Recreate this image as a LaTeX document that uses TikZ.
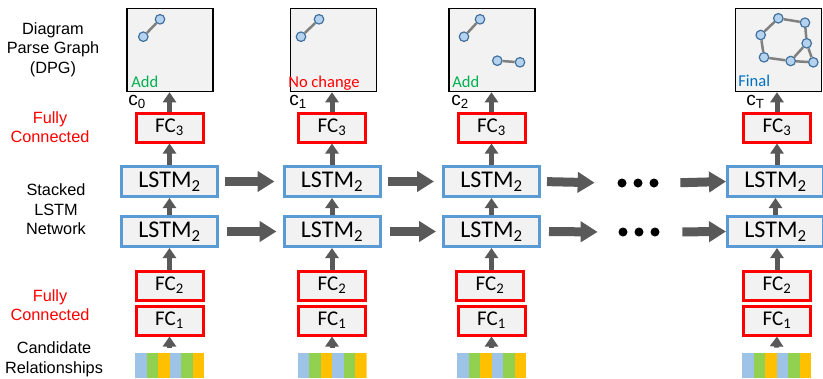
\documentclass[tikz,border=0pt]{standalone}
\usepackage{fontspec}
\setmainfont{Liberation Sans}
\newfontfamily\boxfont{Carlito}
\usetikzlibrary{arrows.meta}

\definecolor{boxfill}{RGB}{242,242,242}
\definecolor{fcred}{RGB}{255,0,0}
\definecolor{lstmblue}{RGB}{91,155,213}
\definecolor{arrowgray}{RGB}{89,89,89}
\definecolor{nodeblue}{RGB}{181,210,238}
\definecolor{nodestroke}{RGB}{65,113,156}
\definecolor{edgegray}{RGB}{128,128,128}
\definecolor{addgreen}{RGB}{0,176,80}
\definecolor{finalblue}{RGB}{0,112,192}
\definecolor{barblue}{RGB}{157,195,230}
\definecolor{bargreen}{RGB}{146,208,80}
\definecolor{barorange}{RGB}{255,192,0}

\tikzset{every picture/.style={line width=0.75pt}}
\tikzset{
  dpgbox/.style={draw=black, fill=boxfill, line width=1.5pt, minimum width=86pt, minimum height=83pt, inner sep=0pt},
  fcbox/.style={draw=fcred, fill=boxfill, line width=3pt, minimum width=67pt, minimum height=29pt, inner sep=0pt, font=\boxfont\fontsize{21}{21}\selectfont},
  lstmbox/.style={draw=lstmblue, fill=boxfill, line width=3pt, minimum width=96pt, minimum height=30pt, inner sep=0pt, font=\boxfont\fontsize{24}{24}\selectfont},
  candbar/.style={minimum width=69pt, minimum height=25pt, inner sep=0pt,
    path picture={\foreach \c [count=\i from 0] in {barblue,bargreen,barorange,barblue,bargreen,barorange}
      \fill[\c] ([xshift=\i*11.5pt]path picture bounding box.north west) rectangle ([xshift=\i*11.5pt+11.5pt]path picture bounding box.south west);}},
  uparrow/.style={draw=arrowgray, line width=5pt, -{Triangle[width=13pt,length=10pt]}},
  rightarrow/.style={draw=arrowgray, line width=9pt, -{Triangle[width=20pt,length=17pt]}},
  dotsbox/.style={minimum width=60pt, minimum height=10pt, inner sep=0pt},
  gnode/.style={circle, draw=nodestroke, fill=nodeblue, line width=1.2pt, minimum size=9.5pt, inner sep=0pt},
  gedge/.style={draw=edgegray, line width=2.5pt},
  sidelabel/.style={align=center, font=\fontsize{16.3}{19.5}\selectfont},
  steplabel/.style={anchor=base west, inner sep=0pt, font=\boxfont\fontsize{16.5}{16.5}\selectfont},
  clabel/.style={anchor=base west, inner sep=0pt, font=\fontsize{19}{19}\selectfont},
}

\begin{document}
\begin{tikzpicture}[x=1pt,y=1pt,yscale=-1,xscale=1]
\useasboundingbox (0,0) rectangle (823,378);

% Side labels
\node[sidelabel] (lbldpg) at (53,49.5) {Diagram\\Parse Graph\\(DPG)};
\node[sidelabel, text=fcred] (lblfctop) at (50,127) {Fully\\Connected};
\node[sidelabel] (lbllstm) at (56,209.5) {Stacked\\LSTM\\Network};
\node[sidelabel, text=fcred] (lblfcbot) at (50,305) {Fully\\Connected};
\node[sidelabel] (lblcand) at (54,359.5) {Candidate\\Relationships};

% Column 1
\node[dpgbox] (dpg1) at (170,50) {};
\node[fcbox] (fcc1) at (169.5,127.5) {FC\textsubscript{3}};
\node[lstmbox] (lstmu1) at (169.5,181.5) {LSTM\textsubscript{2}};
\node[lstmbox] (lstml1) at (169.5,231.5) {LSTM\textsubscript{2}};
\node[fcbox] (fcb1) at (169.5,285.5) {FC\textsubscript{2}};
\node[fcbox] (fca1) at (169.5,320.5) {FC\textsubscript{1}};
\node[candbar] (cand1) at (169.5,365.5) {};

% Column 2
\node[dpgbox] (dpg2) at (333.5,50) {};
\node[fcbox] (fcc2) at (332,127.5) {FC\textsubscript{3}};
\node[lstmbox] (lstmu2) at (332,181.5) {LSTM\textsubscript{2}};
\node[lstmbox] (lstml2) at (332,231.5) {LSTM\textsubscript{2}};
\node[fcbox] (fcb2) at (332,285.5) {FC\textsubscript{2}};
\node[fcbox] (fca2) at (332,320.5) {FC\textsubscript{1}};
\node[candbar] (cand2) at (332,365.5) {};

% Column 3
\node[dpgbox] (dpg3) at (492,50) {};
\node[fcbox] (fcc3) at (491.5,127.5) {FC\textsubscript{3}};
\node[lstmbox] (lstmu3) at (491.5,181.5) {LSTM\textsubscript{2}};
\node[lstmbox] (lstml3) at (491.5,231.5) {LSTM\textsubscript{2}};
\node[fcbox] (fcb3) at (490,285.5) {FC\textsubscript{2}};
\node[fcbox] (fca3) at (491.5,320.5) {FC\textsubscript{1}};
\node[candbar] (cand3) at (491.5,365.5) {};

% Column T
\node[dpgbox] (dpg4) at (778.5,50) {};
\node[fcbox] (fcc4) at (777,127.5) {FC\textsubscript{3}};
\node[lstmbox] (lstmu4) at (775.5,181.5) {LSTM\textsubscript{2}};
\node[lstmbox] (lstml4) at (775.5,231.5) {LSTM\textsubscript{2}};
\node[fcbox] (fcb4) at (777,285.5) {FC\textsubscript{2}};
\node[fcbox] (fca4) at (777,320.5) {FC\textsubscript{1}};
\node[candbar] (cand4) at (776.5,365.5) {};

% Vertical arrows
\draw[uparrow] ([yshift=-5pt]cand1.north) -- (fca1.south);
\draw[uparrow] (fcb1.north) -- (lstml1.south);
\draw[uparrow] (lstml1.north) -- (lstmu1.south);
\draw[uparrow] (lstmu1.north) -- (fcc1.south);
\draw[uparrow] (fcc1.north) -- (dpg1.south -| fcc1.north);

\draw[uparrow] ([yshift=-5pt]cand2.north) -- (fca2.south);
\draw[uparrow] (fcb2.north) -- (lstml2.south);
\draw[uparrow] (lstml2.north) -- (lstmu2.south);
\draw[uparrow] (lstmu2.north) -- (fcc2.south);
\draw[uparrow] (fcc2.north) -- (dpg2.south -| fcc2.north);

\draw[uparrow] ([yshift=-5pt]cand3.north) -- (fca3.south);
\draw[uparrow] (fcb3.north -| lstml3.south) -- (lstml3.south);
\draw[uparrow] (lstml3.north) -- (lstmu3.south);
\draw[uparrow] (lstmu3.north) -- (fcc3.south);
\draw[uparrow] (fcc3.north) -- (dpg3.south -| fcc3.north);

\draw[uparrow] ([yshift=-5pt]cand4.north) -- (fca4.south);
\draw[uparrow] (fcb4.north) -- (lstml4.south -| fcb4.north);
\draw[uparrow] (lstml4.north) -- (lstmu4.south);
\draw[uparrow] (lstmu4.north -| fcc4.south) -- (fcc4.south);
\draw[uparrow] (fcc4.north) -- (dpg4.south -| fcc4.north);

% Horizontal arrows
\draw[rightarrow, shorten <=6pt, shorten >=8pt] (lstmu1.east) -- (lstmu2.west);
\draw[rightarrow, shorten <=8pt, shorten >=6pt] (lstml1.east) -- (lstml2.west);
\draw[rightarrow, shorten <=6pt, shorten >=8pt] (lstmu2.east) -- (lstmu3.west);
\draw[rightarrow, shorten <=8pt, shorten >=6pt] (lstml2.east) -- (lstml3.west);

\node[dotsbox] (dotsu) at (638,183) {};
\node[dotsbox] (dotsl) at (639,232) {};
\fill ([xshift=-16pt]dotsu.center) circle (4.5);
\fill (dotsu.center) circle (4.5);
\fill ([xshift=16pt]dotsu.center) circle (4.5);
\fill ([xshift=-16pt]dotsl.center) circle (4.5);
\fill (dotsl.center) circle (4.5);
\fill ([xshift=16pt]dotsl.center) circle (4.5);

\draw[rightarrow, shorten <=6pt, shorten >=13pt] (lstmu3.east) -- (dotsu.west);
\draw[rightarrow, shorten <=8pt, shorten >=11pt] (lstml3.east) -- (dotsl.west);
\draw[rightarrow, shorten <=12pt] (dotsu.east) -- (lstmu4.west);
\draw[rightarrow, shorten <=13pt] (dotsl.east) -- (lstml4.west);

% Graph in c0
\node[gnode] (g1a) at (143.3,36.7) {};
\node[gnode] (g1b) at (160,19.3) {};
\draw[gedge] (g1a) -- (g1b);

% Graph in c1
\node[gnode] (g2a) at (301,36.7) {};
\node[gnode] (g2b) at (319,19.3) {};
\draw[gedge] (g2a) -- (g2b);

% Graph in c2
\node[gnode] (g3a) at (464,36.7) {};
\node[gnode] (g3b) at (480,19.3) {};
\node[gnode] (g3c) at (497.3,60.7) {};
\node[gnode] (g3d) at (520,62.3) {};
\draw[gedge] (g3a) -- (g3b);
\draw[gedge] (g3c) -- (g3d);

% Graph in cT
\node[gnode] (g4a) at (778.3,18.3) {};
\node[gnode] (g4b) at (805,22.7) {};
\node[gnode] (g4c) at (760.7,35) {};
\node[gnode] (g4d) at (806.7,43.3) {};
\node[gnode] (g4e) at (764,57.3) {};
\node[gnode] (g4f) at (790.7,61) {};
\node[gnode] (g4g) at (813.3,62.3) {};
\draw[gedge] (g4c) -- (g4a);
\draw[gedge] (g4a) -- (g4b);
\draw[gedge] (g4b) -- (g4d);
\draw[gedge] (g4c) -- (g4e);
\draw[gedge] (g4e) -- (g4f);
\draw[gedge] (g4f) -- (g4d);
\draw[gedge] (g4d) -- (g4g);
\draw[gedge] (g4f) -- (g4g);

% Step texts
\node[steplabel, text=addgreen] (add1) at (131,87) {Add};
\node[steplabel, text=fcred] (nochange2) at (288,87) {No change};
\node[steplabel, text=addgreen] (add3) at (452,87) {Add};
\node[steplabel, text=finalblue] (final4) at (738,86) {Final};

% c labels
\node[clabel] (c0) at (128,105.5) {c\textsubscript{0}};
\node[clabel] (c1) at (289,105.5) {c\textsubscript{1}};
\node[clabel] (c2) at (451,105.5) {c\textsubscript{2}};
\node[clabel] (cT) at (746,105.5) {c\textsubscript{T}};

\end{tikzpicture}
\end{document}
